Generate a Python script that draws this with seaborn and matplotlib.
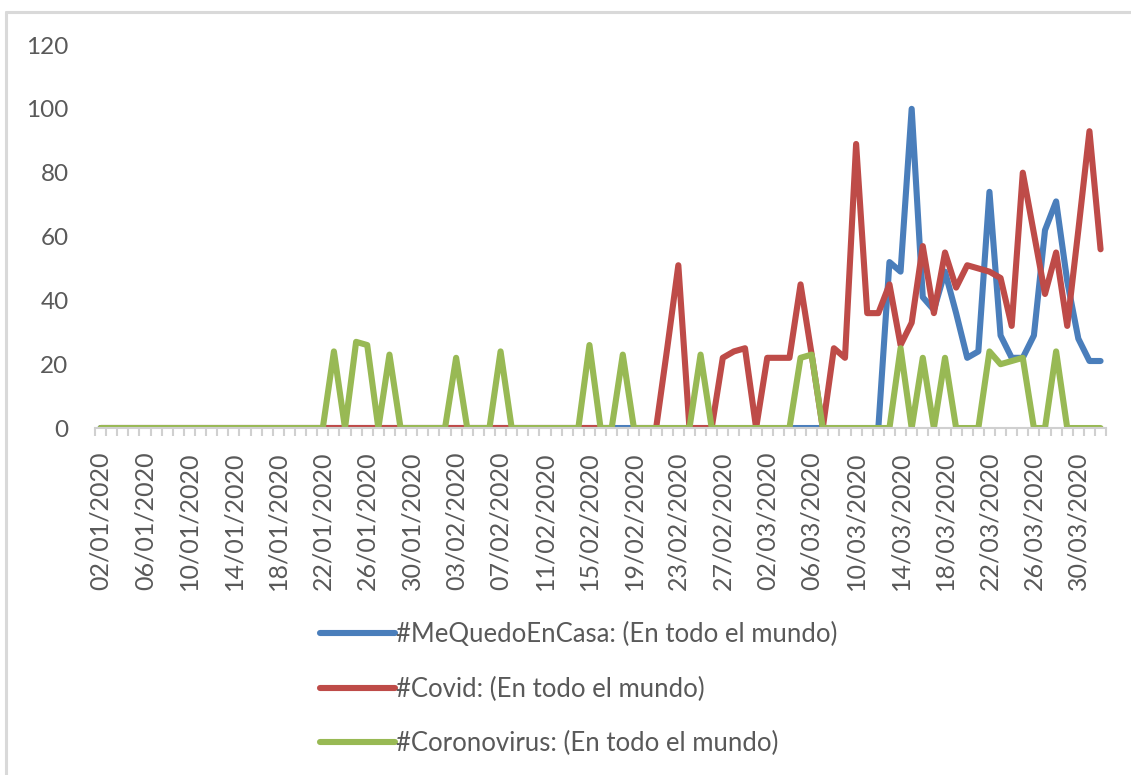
import matplotlib
matplotlib.use("Agg")
import matplotlib.pyplot as plt
import matplotlib.dates as mdates
from matplotlib.lines import Line2D
import seaborn as sns
import pandas as pd
import numpy as np

# %%
# daily values 02/01/2020 .. 01/04/2020
start_date = "2020-01-02"
end_date = "2020-04-01"

series_names = [
    "#MeQuedoEnCasa: (En todo el mundo)",
    "#Covid: (En todo el mundo)",
    "#Coronovirus: (En todo el mundo)",
]
series_colors = ["#4A7EBB", "#BE4B48", "#98B954"]

me_quedo_en_casa = [
    0, 0, 0, 0, 0, 0, 0, 0, 0, 0, 0, 0, 0, 0, 0, 0, 0, 0, 0, 0,
    0, 0, 0, 0, 0, 0, 0, 0, 0, 0, 0, 0, 0, 0, 0, 0, 0, 0, 0, 0,
    0, 0, 0, 0, 0, 0, 0, 0, 0, 0, 0, 0, 0, 0, 0, 0, 0, 0, 0, 0,
    0, 0, 0, 0, 0, 0, 0, 0, 0, 0, 0, 52, 49, 100, 41, 37, 49, 36, 22, 24,
    74, 29, 22, 22, 29, 62, 71, 46, 28, 21, 21,
]
covid = [
    0, 0, 0, 0, 0, 0, 0, 0, 0, 0, 0, 0, 0, 0, 0, 0, 0, 0, 0, 0,
    0, 0, 0, 0, 0, 0, 0, 0, 0, 0, 0, 0, 0, 0, 0, 0, 0, 0, 0, 0,
    0, 0, 0, 0, 0, 0, 0, np.nan, 0, 0, 0, 25, 51, 0, 0, 0, 22, 24, 25, 0,
    22, 22, 22, 45, 23, 0, 25, 22, 89, 36, 36, 45, 26, 33, 57, 36, 55, 44, 51, 50,
    49, 47, 32, 80, 61, 42, 55, 32, 62, 93, 56,
]
coronovirus = [
    0, 0, 0, 0, 0, 0, 0, 0, 0, 0, 0, 0, 0, 0, 0, 0, 0, 0, 0, 0,
    0, 24, 0, 27, 26, 0, 23, 0, 0, 0, 0, 0, 22, 0, 0, 0, 24, 0, 0, 0,
    0, 0, 0, 0, 26, 0, 0, 23, 0, 0, 0, 0, 0, 0, 23, 0, 0, 0, 0, 0,
    0, 0, 0, 22, 23, 0, 0, 0, 0, 0, 0, 0, 25, 0, 22, 0, 22, 0, 0, 0,
    24, 20, 21, 22, 0, 0, 24, 0, 0, 0, 0,
]

# %%
dates = pd.date_range(start_date, end_date, freq="D")
frames = []
for name, vals in zip(series_names, [me_quedo_en_casa, covid, coronovirus]):
    part = pd.DataFrame({"Fecha": dates, "Valor": vals, "Serie": name})
    # a missing cell breaks the line (like Excel gaps)
    part["Tramo"] = name + part["Valor"].isna().cumsum().astype(str)
    frames.append(part)
df = pd.concat(frames, ignore_index=True)

# %%
sns.set_style("white")
plt.rcParams["font.family"] = ["Lato", "DejaVu Sans"]

fig = plt.figure(figsize=(11.31, 7.75), dpi=100)
ax = fig.add_axes([0.084, 0.4477, 0.894, 0.4942])

sns.lineplot(data=df, x="Fecha", y="Valor", hue="Serie", units="Tramo",
             estimator=None, palette=series_colors, linewidth=4.4, ax=ax,
             legend=True)
for ln in ax.get_lines():
    ln.set_solid_joinstyle("round")
    ln.set_solid_capstyle("round")

half = pd.Timedelta(hours=12)
ax.set_xlim(dates[0] - half, dates[-1] + half)
ax.set_ylim(0, 120)
ax.set_yticks(range(0, 121, 20))

ax.set_xticks(dates[::4])
ax.xaxis.set_major_formatter(mdates.DateFormatter("%d/%m/%Y"))
ax.set_xticks(list(dates - half) + [dates[-1] + half], minor=True)
ax.tick_params(axis="x", which="major", length=0, pad=17, rotation=90,
               labelsize=18, labelcolor="#595959")
ax.tick_params(axis="x", which="minor", length=6, width=1.5, color="#D0D0D0",
               direction="out", bottom=True)
ax.tick_params(axis="y", length=0, pad=19, labelsize=17.5, labelcolor="#595959")

for side in ["top", "right", "left"]:
    ax.spines[side].set_visible(False)
ax.spines["bottom"].set_color("#D0D0D0")
ax.spines["bottom"].set_linewidth(1.5)
ax.set_xlabel("")
ax.set_ylabel("")

handles, labels = ax.get_legend_handles_labels()
for h in handles:
    h.set_solid_capstyle("round")
    h.set_linewidth(4.4)
ax.legend(handles, labels, loc="upper left", bbox_to_anchor=(0.272, 0.214),
          bbox_transform=fig.transFigure, frameon=False, fontsize=18.5,
          handlelength=2.9, handletextpad=0.05, labelspacing=1.15,
          borderpad=0, labelcolor="#595959")

# chart area border (top and left edges visible)
fig.add_artist(Line2D([0.0053, 1.0], [0.9845, 0.9845], color="#D9D9D9",
                      linewidth=2.2, transform=fig.transFigure))
fig.add_artist(Line2D([0.0053, 0.0053], [0.0, 0.9845], color="#D9D9D9",
                      linewidth=2.2, transform=fig.transFigure))

fig.savefig("out.png", dpi=100)
